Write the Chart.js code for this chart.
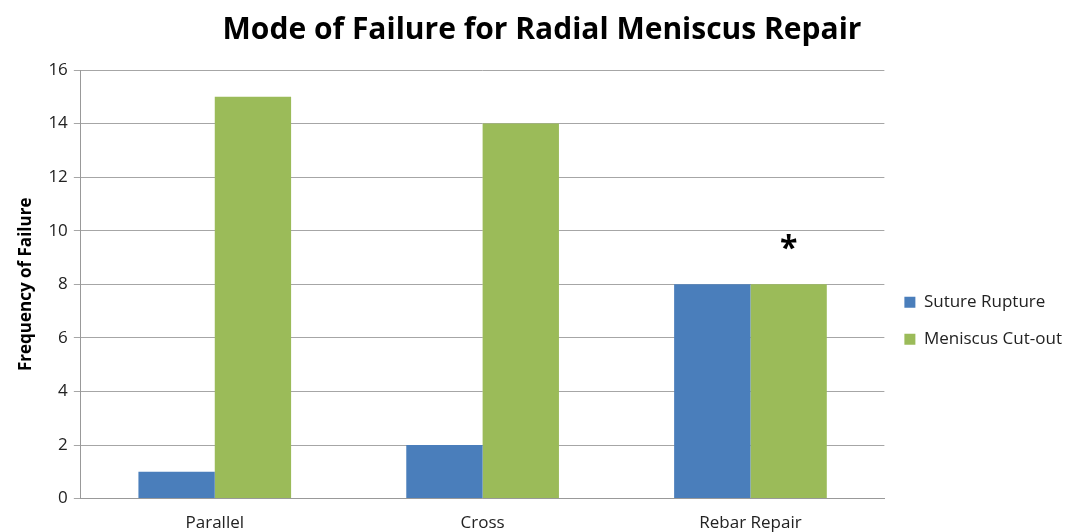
<!DOCTYPE html>
<html lang="en">
<head>
    <meta charset="utf-8">
    <title>Mode of Failure for Radial Meniscus Repair</title>
    <script src="https://cdn.jsdelivr.net/npm/chart.js@4"></script>
    <style>
        html, body { margin: 0; padding: 0; background: #ffffff; }
        #wrap { width: 1074px; height: 532px; position: relative; }
    </style>
</head>
<body>
    <div id="wrap">
        <canvas id="myChart" width="1074" height="532"></canvas>
    </div>

    <script>
        // data
        var categories = ['Parallel', 'Cross', 'Rebar Repair'];
        var sutureRupture = [1, 2, 8];
        var meniscusCutout = [15, 14, 8];
        var yTicks = [0, 2, 4, 6, 8, 10, 12, 14, 16];
        // asterisk marks significance above these bars (dataset 1)
        var starMarks = ['', '', '*'];

        var fontFamily = '"Open Sans", "Liberation Sans", sans-serif';

        // draws the asterisk above the bar using the bar's own position
        var starPlugin = {
            id: 'starPlugin',
            afterDatasetsDraw: function (chart) {
                var ctx = chart.ctx;
                var meta = chart.getDatasetMeta(1);
                ctx.save();
                ctx.fillStyle = '#000';
                ctx.font = 'bold 32px ' + fontFamily;
                ctx.textAlign = 'center';
                ctx.textBaseline = 'bottom';
                meta.data.forEach(function (bar, i) {
                    if (starMarks[i]) {
                        ctx.fillText(starMarks[i], bar.x, bar.y - 18);
                    }
                });
                ctx.restore();
            }
        };

        var ctx = document.getElementById('myChart');
        var myChart = new Chart(ctx, {
            type: 'bar',
            data: {
                labels: categories,
                datasets: [{
                    label: 'Suture Rupture',
                    data: sutureRupture,
                    backgroundColor: '#4a7ebb'
                }, {
                    label: 'Meniscus Cut-out',
                    data: meniscusCutout,
                    backgroundColor: '#9bbb59'
                }]
            },
            options: {
                responsive: false,
                animation: false,
                layout: { padding: { left: 12, right: 2, top: 8, bottom: -15 } },
                datasets: {
                    bar: { barPercentage: 1.0, categoryPercentage: 0.57 }
                },
                plugins: {
                    title: {
                        display: true,
                        text: 'Mode of Failure for Radial Meniscus Repair',
                        color: '#000',
                        font: { family: fontFamily, size: 30, weight: 'bold' },
                        padding: { top: 4, bottom: 22 }
                    },
                    legend: {
                        position: 'right',
                        // empty title only pushes the items lower, like the original
                        title: {
                            display: true,
                            text: ' ',
                            font: { family: fontFamily, size: 17 },
                            padding: { top: 0, bottom: 66 }
                        },
                        labels: {
                            color: '#222',
                            boxWidth: 11,
                            boxHeight: 11,
                            padding: 20,
                            font: { family: fontFamily, size: 17 }
                        }
                    },
                    tooltip: { enabled: false }
                },
                scales: {
                    x: {
                        grid: { display: false, tickLength: 0 },
                        border: { color: '#999', width: 1 },
                        ticks: { color: '#222', font: { family: fontFamily, size: 17 }, padding: 14 }
                    },
                    y: {
                        min: 0,
                        max: 16,
                        afterBuildTicks: function (axis) {
                            axis.ticks = yTicks.map(function (v) { return { value: v }; });
                        },
                        grid: { color: '#a6a6a6', tickLength: 7 },
                        border: { color: '#999', width: 1 },
                        ticks: { color: '#222', font: { family: fontFamily, size: 17 }, padding: 6 },
                        title: {
                            display: true,
                            text: 'Frequency of Failure',
                            color: '#000',
                            font: { family: fontFamily, size: 17, weight: 'bold' },
                            padding: { bottom: 6 }
                        }
                    }
                }
            },
            plugins: [starPlugin]
        });
    </script>
</body>
</html>
